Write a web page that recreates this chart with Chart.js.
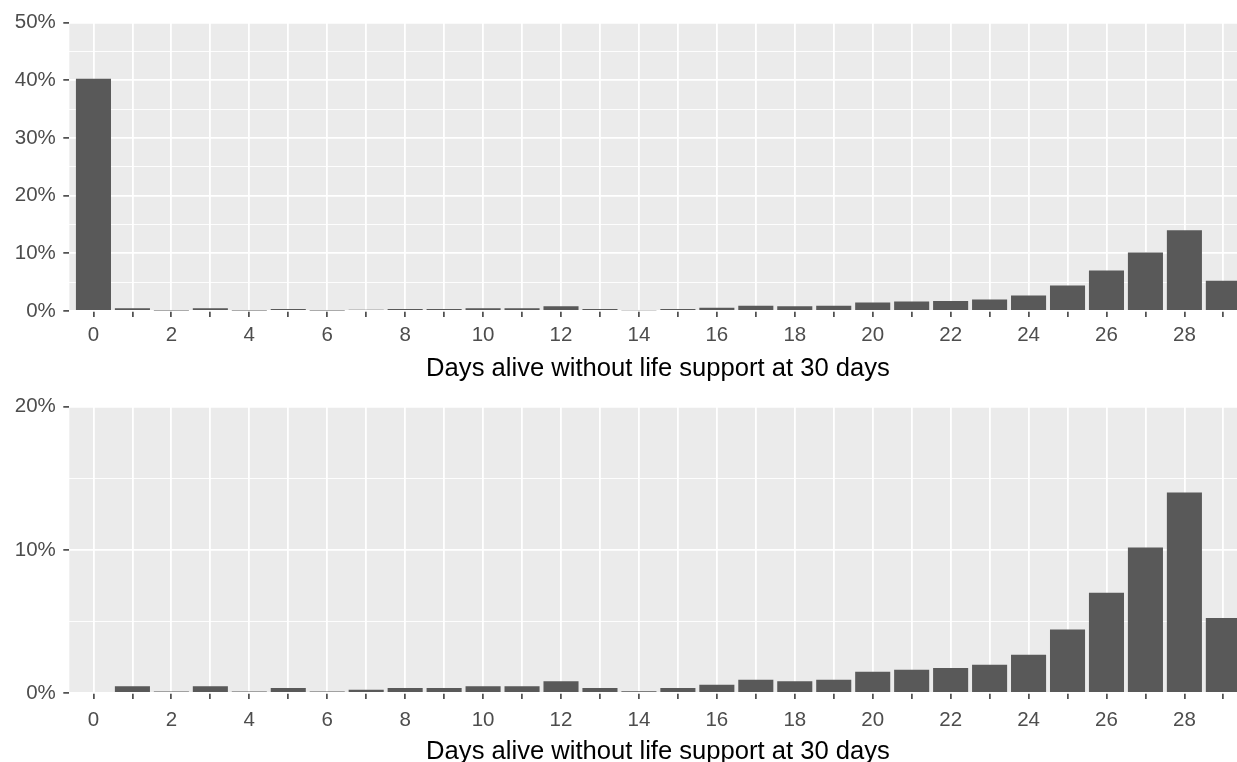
<!DOCTYPE html>
<html>
<head>
<meta charset="utf-8">
<title>Days alive without life support at 30 days</title>
<script src="https://cdn.jsdelivr.net/npm/chart.js@4.4.1/dist/chart.umd.min.js"></script>
<style>
  body { margin: 0; background: #ffffff; }
  #wrap { position: relative; width: 1237px; height: 762px; overflow: hidden; }
  canvas { position: absolute; left: 0; }
  #topChart { top: 0; }
  #bottomChart { top: 381px; }
</style>
</head>
<body>
<div id="wrap">
  <canvas id="topChart" width="1237" height="381"></canvas>
  <canvas id="bottomChart" width="1237" height="381"></canvas>
</div>
<script>
// Data
//==============================

var days = [0, 1, 2, 3, 4, 5, 6, 7, 8, 9, 10, 11, 12, 13, 14, 15, 16, 17, 18, 19, 20, 21, 22, 23, 24, 25, 26, 27, 28, 29];

// share of patients (%) for each day count
var sharePct = [40.3, 0.47, 0.1, 0.47, 0.1, 0.35, 0.1, 0.23, 0.35, 0.35, 0.47, 0.47, 0.82, 0.35, 0.12,
  0.35, 0.58, 0.93, 0.82, 0.93, 1.49, 1.63, 1.75, 1.98, 2.68, 4.43, 7.01, 10.16, 14.0, 5.24];

var topYTicks = [0, 10, 20, 30, 40, 50];
var bottomYTicks = [0, 10, 20];

var xTitle = "Days alive without life support at 30 days";

// Shared settings
//==============================

var fontFamily = "'Liberation Sans', Arial, sans-serif";
var tickFont = { family: fontFamily, size: 20.5 };

// grey panel behind the plot, like ggplot
var panelBg = {
  id: "panelBg",
  beforeDraw: function (chart) {
    var a = chart.chartArea;
    var ctx = chart.ctx;
    ctx.save();
    ctx.fillStyle = "#EBEBEB";
    ctx.fillRect(a.left, a.top, a.right - a.left, a.bottom - a.top);
    ctx.restore();
  }
};

// x axis title, centred on the full (cropped) panel like the original
var axisTitle = {
  id: "axisTitle",
  afterDraw: function (chart, args, opts) {
    var ctx = chart.ctx;
    ctx.save();
    ctx.font = "25.6px " + fontFamily;
    ctx.fillStyle = "#000000";
    ctx.textAlign = "center";
    ctx.textBaseline = "alphabetic";
    ctx.fillText(xTitle, 658, opts.baseline);
    ctx.restore();
  }
};

function makeChart(canvasId, xs, ys, yMax, majorTicks, opts) {
  var points = [];
  for (var i = 0; i < xs.length; i++) {
    points.push({ x: xs[i], y: ys[i] });
  }
  var isMajor = function (ctx) {
    return ctx.tick && majorTicks.indexOf(ctx.tick.value) !== -1;
  };

  return new Chart(document.getElementById(canvasId), {
    type: "bar",
    data: {
      datasets: [{
        data: points,
        backgroundColor: "#595959",
        borderWidth: 0,
        barPercentage: 0.9,
        categoryPercentage: 1.0
      }]
    },
    plugins: [panelBg, axisTitle],
    options: {
      responsive: false,
      animation: false,
      events: [],
      layout: { padding: { top: opts.padTop, left: 0, right: 0, bottom: 0 } },
      plugins: {
        legend: { display: false },
        tooltip: { enabled: false },
        axisTitle: { baseline: opts.titleBaseline }
      },
      scales: {
        x: {
          type: "linear",
          offset: false,
          min: -0.62,
          max: 29.35,
          afterBuildTicks: function (scale) {
            scale.ticks = days.map(function (d) { return { value: d }; });
          },
          afterFit: function (scale) { scale.height = opts.xHeight; },
          border: { display: false },
          grid: {
            offset: false,
            color: "#FFFFFF",
            lineWidth: 1.8,
            tickColor: "#333333",
            tickLength: 6,
            tickWidth: 1.5
          },
          ticks: {
            autoSkip: false,
            maxRotation: 0,
            padding: opts.xPad,
            font: tickFont,
            color: "#4D4D4D",
            callback: function (v) { return v % 2 === 0 ? String(v) : ""; }
          }
        },
        y: {
          min: 0,
          max: yMax,
          afterBuildTicks: function (scale) {
            var t = [];
            for (var v = 0; v <= yMax; v += 5) t.push({ value: v });
            scale.ticks = t;
          },
          afterFit: function (scale) { scale.width = 69.3; },
          border: { display: false },
          grid: {
            color: "#FFFFFF",
            lineWidth: function (ctx) { return isMajor(ctx) ? 1.8 : 0.9; },
            tickColor: function (ctx) { return isMajor(ctx) ? "#333333" : "rgba(0,0,0,0)"; },
            tickLength: 6,
            tickWidth: 1.5
          },
          ticks: {
            padding: 7.5,
            font: tickFont,
            color: "#4D4D4D",
            callback: function (v) { return majorTicks.indexOf(v) !== -1 ? v + "%" : ""; }
          }
        }
      }
    }
  });
}

// Charts
// ===========================

// top panel: every day, including 0
var topChart = makeChart("topChart", days, sharePct, 50, topYTicks,
  { padTop: 22.7, xHeight: 70, xPad: 6, titleBaseline: 375.5 });

// bottom panel: day 0 left out, zoomed to 20%
var bottomChart = makeChart("bottomChart", days.slice(1), sharePct.slice(1), 20, bottomYTicks,
  { padTop: 25.7, xHeight: 69, xPad: 8.7, titleBaseline: 378 });
</script>
</body>
</html>
